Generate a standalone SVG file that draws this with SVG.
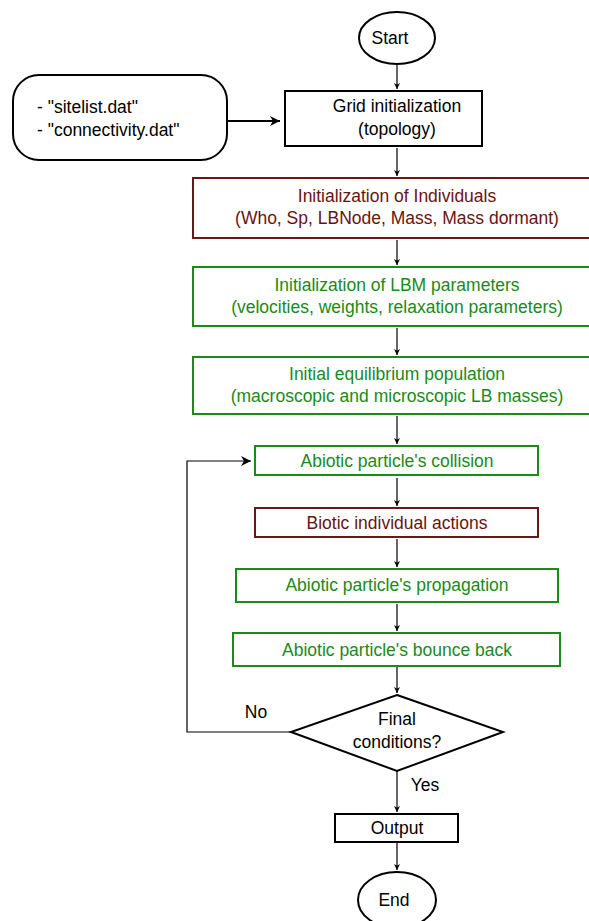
<svg xmlns="http://www.w3.org/2000/svg" width="589" height="921" viewBox="0 0 589 921">
<defs>
<style>
text{font-family:"Liberation Sans",Arial,sans-serif;font-size:17.5px;text-anchor:middle}
.k{fill:#000}
.r{fill:#6b1212}
.g{fill:#1a8a1a}
.bk{fill:#fff;stroke:#000;stroke-width:2}
.br{fill:#fff;stroke:#6b1717;stroke-width:2}
.bg{fill:#fff;stroke:#1a8a1a;stroke-width:2}
.c{fill:none;stroke:#000;stroke-width:1.2}
</style>
<marker id="a" viewBox="0 0 10 10" refX="10" refY="5" markerWidth="6" markerHeight="6" markerUnits="userSpaceOnUse" orient="auto"><path d="M0,0 L10,5 L0,10 L3,5 Z" fill="#000"/></marker>
<marker id="b" viewBox="0 0 10 10" refX="10" refY="5" markerWidth="14" markerHeight="10" markerUnits="userSpaceOnUse" orient="auto"><path d="M0,0 L10,5 L0,10 L3,5 Z" fill="#000"/></marker>
</defs>
<g id="connectors">
<line class="c" x1="397" y1="64" x2="397" y2="89" marker-end="url(#a)"/>
<line class="c" x1="228" y1="121" x2="280" y2="121" style="stroke-width:2" marker-end="url(#b)"/>
<line class="c" x1="397" y1="148" x2="397" y2="176" marker-end="url(#a)"/>
<line class="c" x1="397" y1="240" x2="397" y2="265" marker-end="url(#a)"/>
<line class="c" x1="397" y1="328" x2="397" y2="355" marker-end="url(#a)"/>
<line class="c" x1="397" y1="416" x2="397" y2="444" marker-end="url(#a)"/>
<line class="c" x1="397" y1="478" x2="397" y2="506" marker-end="url(#a)"/>
<line class="c" x1="397" y1="539" x2="397" y2="567" marker-end="url(#a)"/>
<line class="c" x1="397" y1="604" x2="397" y2="631" marker-end="url(#a)"/>
<line class="c" x1="397" y1="667" x2="397" y2="693" marker-end="url(#a)"/>
<polyline class="c" points="291,732 187,732 187,461 251,461" marker-end="url(#b)"/>
<line class="c" x1="397" y1="771" x2="397" y2="812" marker-end="url(#a)"/>
<line class="c" x1="397" y1="843" x2="397" y2="870" marker-end="url(#a)"/>
<text class="k" x="256" y="718">No</text>
<text class="k" x="425" y="791">Yes</text>
</g>
<g id="start"><ellipse class="bk" cx="397" cy="38" rx="38" ry="26"/><text class="k" x="390" y="44">Start</text></g>
<g id="files"><rect class="bk" x="13" y="75" width="214" height="85" rx="26"/>
<text class="k" x="37" y="113" style="text-anchor:start">- "sitelist.dat"</text>
<text class="k" x="37" y="136" style="text-anchor:start">- "connectivity.dat"</text></g>
<g id="grid"><rect class="bk" x="285" y="91" width="197" height="55"/>
<text class="k" x="397" y="112">Grid initialization</text><text class="k" x="397" y="135">(topology)</text></g>
<g id="individuals"><rect class="br" x="193" y="178" width="408" height="60"/>
<text class="r" x="397" y="202">Initialization of Individuals</text><text class="r" x="397" y="224">(Who, Sp, LBNode, Mass, Mass dormant)</text></g>
<g id="lbm"><rect class="bg" x="193" y="267" width="408" height="59"/>
<text class="g" x="397" y="291">Initialization of LBM parameters</text><text class="g" x="397" y="313">(velocities, weights, relaxation parameters)</text></g>
<g id="equilibrium"><rect class="bg" x="193" y="357" width="408" height="57"/>
<text class="g" x="397" y="380">Initial equilibrium population</text><text class="g" x="397" y="402">(macroscopic and microscopic LB masses)</text></g>
<g id="collision"><rect class="bg" x="255" y="446" width="283" height="29"/><text class="g" x="397" y="467">Abiotic particle's collision</text></g>
<g id="biotic"><rect class="br" x="255" y="508" width="283" height="29"/><text class="r" x="397" y="529">Biotic individual actions</text></g>
<g id="propagation"><rect class="bg" x="236" y="569" width="322" height="33"/><text class="g" x="397" y="591">Abiotic particle's propagation</text></g>
<g id="bounce"><rect class="bg" x="233" y="633" width="327" height="33"/><text class="g" x="397" y="656">Abiotic particle's bounce back</text></g>
<g id="decision"><polygon class="bk" points="397,695 503,732 397,771 291,732"/>
<text class="k" x="397" y="725">Final</text><text class="k" x="397" y="748">conditions?</text></g>
<g id="output"><rect class="bk" x="335" y="814" width="123" height="28"/><text class="k" x="397" y="834">Output</text></g>
<g id="end"><ellipse class="bk" cx="397" cy="900" rx="39" ry="28"/><text class="k" x="394" y="906">End</text></g>
</svg>
